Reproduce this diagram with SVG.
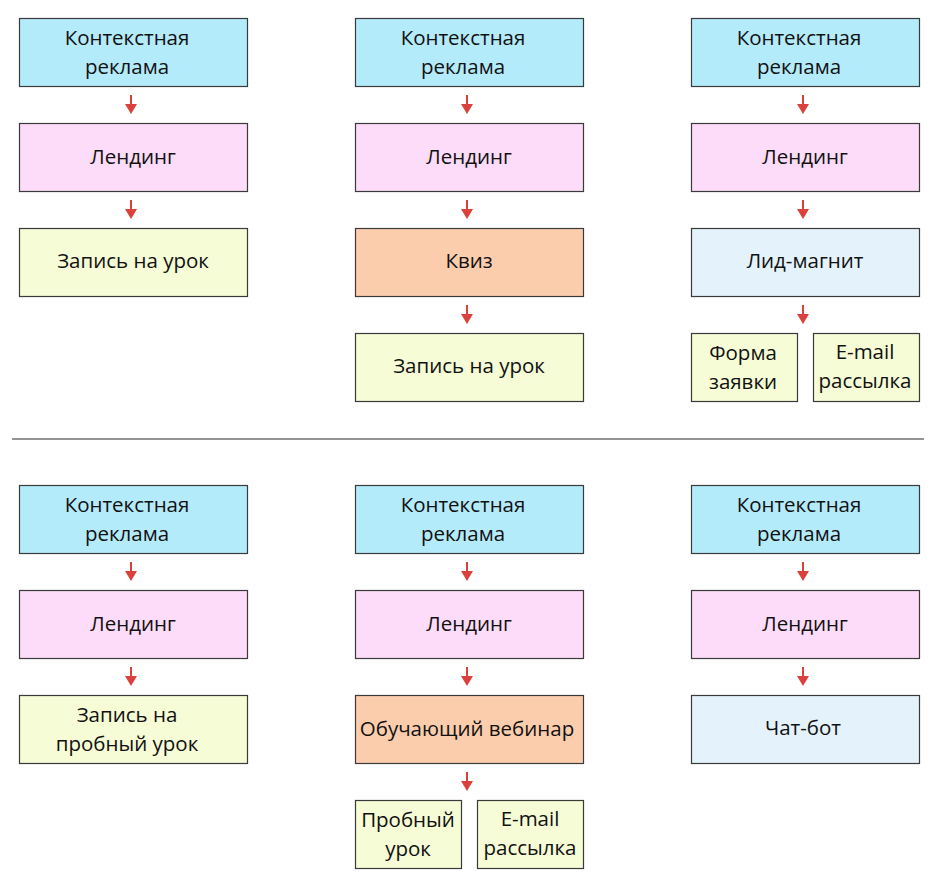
<svg xmlns="http://www.w3.org/2000/svg" width="938" height="881" viewBox="0 0 938 881">
<defs>
<style>
.b{stroke:#3a3a3a;stroke-width:1.2}
.ad{fill:#b4ebfb}.ln{fill:#fcdcf8}.gr{fill:#f6fcd6}.or{fill:#fccdad}.lb{fill:#e4f3fb}
text{font-family:"Open Sans","Noto Sans",sans-serif;font-size:20.5px;fill:#111;text-anchor:middle;dominant-baseline:central}
.c line{stroke:#d9413a;stroke-width:2}
.c path{fill:#d9413a}
</style>
</defs>
<rect width="938" height="881" fill="#fff"/>
<line x1="12" y1="439" x2="924" y2="439" stroke="#707070" stroke-width="1.3"/>
<g id="a1"><rect class="b ad" x="19.5" y="18.5" width="228" height="68"/><text x="127" y="37">Контекстная</text><text x="127" y="66">реклама</text></g>
<g id="l1"><rect class="b ln" x="19.5" y="123.5" width="228" height="68"/><text x="133" y="156">Лендинг</text></g>
<g id="z1"><rect class="b gr" x="19.5" y="228.5" width="228" height="68"/><text x="133" y="260">Запись на урок</text></g>
<g id="a2"><rect class="b ad" x="355.5" y="18.5" width="228" height="68"/><text x="463" y="37">Контекстная</text><text x="463" y="66">реклама</text></g>
<g id="l2"><rect class="b ln" x="355.5" y="123.5" width="228" height="68"/><text x="469" y="156">Лендинг</text></g>
<g id="q2"><rect class="b or" x="355.5" y="228.5" width="228" height="68"/><text x="469" y="260">Квиз</text></g>
<g id="z2"><rect class="b gr" x="355.5" y="333.5" width="228" height="68"/><text x="469" y="365">Запись на урок</text></g>
<g id="a3"><rect class="b ad" x="691.5" y="18.5" width="228" height="68"/><text x="799" y="37">Контекстная</text><text x="799" y="66">реклама</text></g>
<g id="l3"><rect class="b ln" x="691.5" y="123.5" width="228" height="68"/><text x="805" y="156">Лендинг</text></g>
<g id="m3"><rect class="b lb" x="691.5" y="228.5" width="228" height="68"/><text x="805" y="260">Лид-магнит</text></g>
<g id="f3"><rect class="b gr" x="691.5" y="333.5" width="106" height="68"/><text x="743" y="352">Форма</text><text x="743" y="381">заявки</text></g>
<g id="e3"><rect class="b gr" x="813.5" y="333.5" width="106" height="68"/><text x="865" y="351">E-mail</text><text x="865" y="380">рассылка</text></g>
<g id="a4"><rect class="b ad" x="19.5" y="485.5" width="228" height="68"/><text x="127" y="504">Контекстная</text><text x="127" y="533">реклама</text></g>
<g id="l4"><rect class="b ln" x="19.5" y="590.5" width="228" height="68"/><text x="133" y="623">Лендинг</text></g>
<g id="p4"><rect class="b gr" x="19.5" y="695.5" width="228" height="68"/><text x="127" y="714">Запись на</text><text x="127" y="743">пробный урок</text></g>
<g id="a5"><rect class="b ad" x="355.5" y="485.5" width="228" height="68"/><text x="463" y="504">Контекстная</text><text x="463" y="533">реклама</text></g>
<g id="l5"><rect class="b ln" x="355.5" y="590.5" width="228" height="68"/><text x="469" y="623">Лендинг</text></g>
<g id="w5"><rect class="b or" x="355.5" y="695.5" width="228" height="68"/><text x="467" y="728">Обучающий вебинар</text></g>
<g id="t5"><rect class="b gr" x="355.5" y="800.5" width="106" height="68"/><text x="408" y="819">Пробный</text><text x="408" y="848">урок</text></g>
<g id="e5"><rect class="b gr" x="477.5" y="800.5" width="106" height="68"/><text x="530" y="818">E-mail</text><text x="530" y="847">рассылка</text></g>
<g id="a6"><rect class="b ad" x="691.5" y="485.5" width="228" height="68"/><text x="799" y="504">Контекстная</text><text x="799" y="533">реклама</text></g>
<g id="l6"><rect class="b ln" x="691.5" y="590.5" width="228" height="68"/><text x="805" y="623">Лендинг</text></g>
<g id="c6"><rect class="b lb" x="691.5" y="695.5" width="228" height="68"/><text x="803" y="727">Чат-бот</text></g>
<g id="connectors" class="c">
<line x1="131" y1="95" x2="131" y2="106"/><path d="M125 104h12l-6 10z"/>
<line x1="131" y1="200" x2="131" y2="211"/><path d="M125 209h12l-6 10z"/>
<line x1="467" y1="95" x2="467" y2="106"/><path d="M461 104h12l-6 10z"/>
<line x1="467" y1="200" x2="467" y2="211"/><path d="M461 209h12l-6 10z"/>
<line x1="467" y1="305" x2="467" y2="316"/><path d="M461 314h12l-6 10z"/>
<line x1="803" y1="95" x2="803" y2="106"/><path d="M797 104h12l-6 10z"/>
<line x1="803" y1="200" x2="803" y2="211"/><path d="M797 209h12l-6 10z"/>
<line x1="803" y1="305" x2="803" y2="316"/><path d="M797 314h12l-6 10z"/>
<line x1="131" y1="562" x2="131" y2="573"/><path d="M125 571h12l-6 10z"/>
<line x1="131" y1="667" x2="131" y2="678"/><path d="M125 676h12l-6 10z"/>
<line x1="467" y1="562" x2="467" y2="573"/><path d="M461 571h12l-6 10z"/>
<line x1="467" y1="667" x2="467" y2="678"/><path d="M461 676h12l-6 10z"/>
<line x1="467" y1="772" x2="467" y2="783"/><path d="M461 781h12l-6 10z"/>
<line x1="803" y1="562" x2="803" y2="573"/><path d="M797 571h12l-6 10z"/>
<line x1="803" y1="667" x2="803" y2="678"/><path d="M797 676h12l-6 10z"/>
</g>
</svg>
